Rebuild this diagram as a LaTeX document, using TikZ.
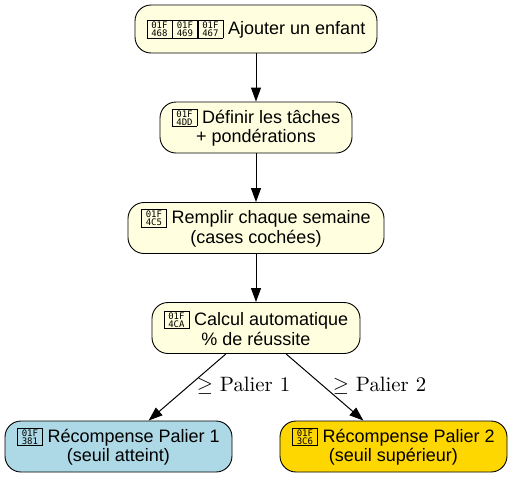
\documentclass[tikz,border=0pt]{standalone}
\usepackage{fontspec}
\usepackage{amssymb}
\setsansfont{Liberation Sans}
\newfontfamily\tofufont{DejaVu Sans Mono}
\newfontfamily\lmten{lmroman10-regular}[Extension=.otf]
\usetikzlibrary{arrows.meta}
\newcommand{\tofubox}[2]{\rule{0pt}{14.6pt}\smash{\raisebox{1pt}{\setlength{\fboxsep}{0.4pt}\setlength{\fboxrule}{0.5pt}\fbox{\parbox[c][16pt][c]{23.7pt}{\centering\tofufont\fontsize{9}{8}\selectfont #1\\#2}}}}}
\tikzset{
  x=1pt,y=-1pt,
  stepbox/.style={draw=black,line width=0.9pt,rounded corners=16pt,fill=#1,align=center,inner sep=0pt,
    font=\sffamily\fontsize{18}{19.6}\selectfont},
  stepbox/.default={yellowfill},
  conn/.style={draw=black,line width=1pt,-{Stealth[length=14pt,width=10pt,inset=0pt]}},
  edgetext/.style={inner sep=0pt,font=\lmten\fontsize{20.8}{22}\selectfont},
}
\definecolor{yellowfill}{HTML}{FFFFE0}
\definecolor{bluefill}{HTML}{ADD8E6}
\definecolor{goldfill}{HTML}{FFD700}
\begin{document}
\begin{tikzpicture}
\useasboundingbox (0,0) rectangle (512,477);
\fill[white] (0,0) rectangle (512,477);
\node[stepbox,minimum width=242pt,minimum height=48pt] (n1) at (256,29) {\tofubox{01F}{468}\hspace{0pt}\tofubox{01F}{469}\hspace{0pt}\tofubox{01F}{467} Ajouter un enfant};
\node[stepbox,minimum width=192pt,minimum height=51pt] (n2) at (256,127.5) {\tofubox{01F}{4DD} Définir les tâches\\+ pondérations};
\node[stepbox,minimum width=256pt,minimum height=51pt] (n3) at (256,228) {\tofubox{01F}{4C5} Remplir chaque semaine\\(cases cochées)};
\node[stepbox,minimum width=208pt,minimum height=51pt] (n4) at (256,328) {\tofubox{01F}{4CA} Calcul automatique\\\% de réussite};
\node[stepbox=bluefill,minimum width=227pt,minimum height=51pt] (n5) at (118.5,446.5) {\tofubox{01F}{381} Récompense Palier 1\\(seuil atteint)};
\node[stepbox=goldfill,minimum width=227pt,minimum height=51pt] (n6) at (393.5,446.5) {\tofubox{01F}{3C6} Récompense Palier 2\\(seuil supérieur)};
\draw[conn] (n1) -- (n2);
\draw[conn] (n2) -- (n3);
\draw[conn] (n3) -- (n4);
\draw[conn] (n4) -- (n5);
\draw[conn] (n4) -- (n6);
\node[edgetext] (l1) at (243.5,386) {$\geq$ Palier 1};
\node[edgetext] (l2) at (379.5,386) {$\geq$ Palier 2};
\end{tikzpicture}
\end{document}
